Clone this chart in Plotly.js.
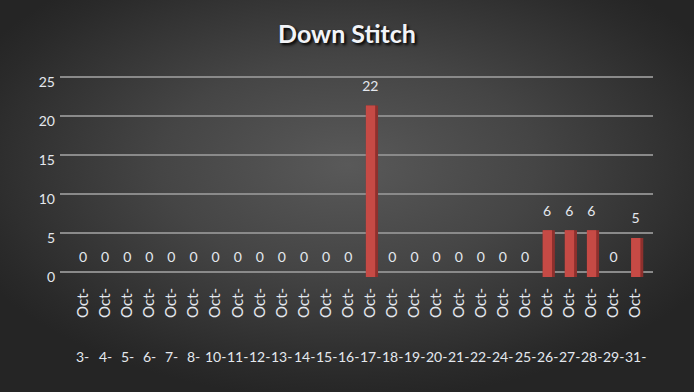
<!DOCTYPE html>
<html>
<head>
<meta charset="utf-8">
<script src="https://cdn.plot.ly/plotly-3.0.1.min.js"></script>
<style>
html,body{margin:0;padding:0;}
body{width:694px;height:392px;overflow:hidden;}
#chart{width:694px;height:392px;background:radial-gradient(ellipse 60% 60% at 50% 42%, #595959 0%, #454545 45%, #2a2a2a 90%, #252525 100%);}
</style>
</head>
<body>
<div id="chart"></div>
<script>
const days = ["3-","4-","5-","6-","7-","8-","10-","11-","12-","13-","14-","15-","16-","17-","18-","19-","20-","21-","22-","24-","25-","26-","27-","28-","29-","31-"];
const month = "Oct-";
const values = [0,0,0,0,0,0,0,0,0,0,0,0,0,22,0,0,0,0,0,0,0,6,6,6,0,5];
const yTicks = [0,5,10,15,20,25];

const idx = days.map((d,i)=>i);
const txtColor = "#e4e8ee";
const font = "Lato, 'Open Sans', sans-serif";

const sideTrace = {
  type:"bar", x:idx, y:values, xaxis:"x", yaxis:"y2",
  marker:{color:"#8e302d"}, width:0.55, offset:-0.2,
  hoverinfo:"skip", showlegend:false
};
const frontTrace = {
  type:"bar", x:idx, y:values, xaxis:"x", yaxis:"y2",
  marker:{color:"#c64a45"}, width:0.42, offset:-0.2,
  hoverinfo:"skip", showlegend:false
};
const labelTrace = {
  type:"scatter", mode:"markers+text", x:idx, y:values, xaxis:"x", yaxis:"y2",
  text: values.map(String), textposition:"top center",
  textfont:{family:font, size:14, color:txtColor},
  marker:{size:16, opacity:0}, cliponaxis:false,
  hoverinfo:"skip", showlegend:false
};
const gridTrace = {type:"scatter", mode:"none", x:[0], y:[0], xaxis:"x", yaxis:"y", hoverinfo:"skip", showlegend:false};

const annotations = days.map((d,i)=>({
  x:i, y:-0.388, xref:"x", yref:"paper", text:d, showarrow:false,
  xanchor:"center", yanchor:"middle",
  font:{family:font, size:14, color:txtColor}
}));

const layout = {
  width:694, height:392,
  margin:{l:60, r:41, t:73, b:115},
  paper_bgcolor:"rgba(0,0,0,0)", plot_bgcolor:"rgba(0,0,0,0)",
  barmode:"overlay",
  title:{text:"<b>Down Stitch</b>", x:0.5, xanchor:"center", y:0.912, yanchor:"middle",
    font:{family:font, size:25, color:"#f2f4f8", shadow:"2px 2px 3px #000"}},
  xaxis:{
    type:"linear", range:[-1.04, 25.79], anchor:"y",
    tickmode:"array", tickvals:idx, ticktext:idx.map(()=>month),
    tickangle:-90, ticks:"", showgrid:false, zeroline:false, showline:false,
    ticklabelstandoff:8,
    tickfont:{family:font, size:15, color:txtColor}
  },
  yaxis:{
    domain:[0.0054, 0.9995], range:[-0.5,25.5], anchor:"x", tickmode:"array", tickvals:yTicks,
    showgrid:true, gridcolor:"#8a8a8a", gridwidth:2, zeroline:false, showline:false,
    showticklabels:false, ticks:""
  },
  yaxis2:{
    domain:[0, 0.956], range:[0,25], anchor:"x", tickmode:"array", tickvals:yTicks,
    showgrid:false, zeroline:false, showline:false, ticks:"",
    ticklabelstandoff:4,
    tickfont:{family:font, size:14, color:txtColor}
  },
  annotations:annotations,
  showlegend:false
};

Plotly.newPlot("chart", [gridTrace, sideTrace, frontTrace, labelTrace], layout, {staticPlot:true, displayModeBar:false});
</script>
</body>
</html>
